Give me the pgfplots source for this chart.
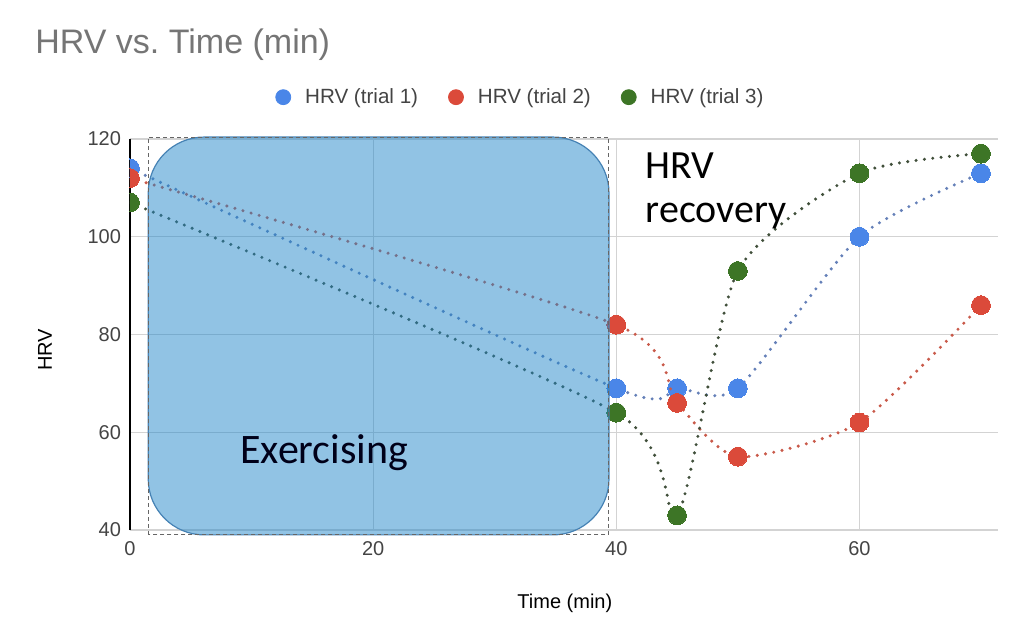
\documentclass[border=0pt]{standalone}
\usepackage{fontspec}
\setmainfont{Liberation Sans}
\newfontfamily\calfont{Carlito}
\usepackage{pgfplots}
\pgfplotsset{compat=1.18}
\definecolor{cblue}{HTML}{4A86E8}
\definecolor{cred}{HTML}{DB4A3A}
\definecolor{cgreen}{HTML}{3D7526}
\definecolor{lblue}{HTML}{6580B8}
\definecolor{lred}{HTML}{C95A4A}
\definecolor{lgreen}{HTML}{404F3A}
\definecolor{boxfill}{RGB}{35,135,201}
\definecolor{boxdraw}{RGB}{70,130,180}
\definecolor{gridc}{HTML}{D3D3D3}
\definecolor{txt}{HTML}{444444}
\definecolor{ttl}{HTML}{757575}
\pgfplotsset{hrvline/.style={line width=1.7pt, line cap=round, dash pattern=on 0pt off 4.2pt, smooth, tension=0.4, mark=*, mark size=4.7pt}}
\begin{document}
\begin{tikzpicture}
\path[use as bounding box] (-65pt,-46pt) rectangle (447pt,265pt);
\begin{axis}[
  at={(0,0)}, anchor=south west, scale only axis,
  width=434pt, height=195.5pt,
  xmin=0, xmax=71.4, ymin=40, ymax=120,
  xtick={0,20,40,60}, ytick={40,60,80,100,120},
  grid=major, major grid style={gridc, line width=0.6pt},
  axis x line*=bottom, axis y line*=left,
  x axis line style={gridc, line width=0.8pt, -},
  y axis line style={black, line width=1pt, -},
  major tick length=0pt,
  clip marker paths=true,
  tick label style={font=\fontsize{10}{12}\selectfont, text=txt},
  /pgf/number format/assume math mode=true,
  xticklabel style={yshift=-2pt},
  yticklabel style={xshift=-1pt},
  xlabel={Time (min)},
  label style={font=\fontsize{10}{12}\selectfont, text=black},
  xlabel style={at={(axis description cs:0.501,0)}, anchor=center, yshift=-36.5pt},
  legend style={at={(axis description cs:0.451,1.107)}, anchor=center, draw=none, fill=none,
    font=\fontsize{10.3}{12}\selectfont, text=txt,
    /tikz/every even column/.append style={column sep=13pt},
    /tikz/every odd column/.append style={column sep=5pt}},
  legend columns=3,
]
\addplot[hrvline, lblue, mark options={solid, cblue, line width=0pt}, forget plot]
  coordinates {(0,114)(40,69)(45,69)(50,69)(60,100)(70,113)};
\addplot[hrvline, lred, mark options={solid, cred, line width=0pt}, forget plot]
  coordinates {(0,112)(40,82)(45,66)(50,55)(60,62)(70,86)};
\addplot[hrvline, lgreen, mark options={solid, cgreen, line width=0pt}, forget plot]
  coordinates {(0,107)(40,64)(45,43)(50,93)(60,113)(70,117)};
\addlegendimage{legend image code/.code={\fill[cblue] (0pt,0pt) circle (3.75pt);}}
\addlegendentry{HRV (trial 1)}
\addlegendimage{legend image code/.code={\fill[cred] (0pt,0pt) circle (3.75pt);}}
\addlegendentry{HRV (trial 2)}
\addlegendimage{legend image code/.code={\fill[cgreen] (0pt,0pt) circle (3.75pt);}}
\addlegendentry{HRV (trial 3)}
\coordinate (ra) at (axis cs:1.5,39);
\coordinate (rb) at (axis cs:39.4,120.4);
\coordinate (ex) at (axis cs:9.05,53.7);
\coordinate (hr) at (axis cs:42.4,112.0);
\end{axis}
\fill[boxfill, fill opacity=0.5, rounded corners=28pt] (ra) rectangle (rb);
\draw[boxdraw, line width=0.6pt, rounded corners=28pt] (ra) rectangle (rb);
\draw[gray!80!black, line width=0.5pt, dash pattern=on 2pt off 1.5pt] (ra) rectangle (rb);
\node[anchor=base west, inner sep=0pt, font=\calfont\fontsize{21}{23}\selectfont, text=black!90!blue] at (ex) {Exercising};
\node[anchor=base west, inner sep=0pt, font=\calfont\fontsize{20}{22}\selectfont, text=black] at (hr) {HRV};
\node[anchor=base west, inner sep=0pt, font=\calfont\fontsize{20}{22}\selectfont, text=black] at ([yshift=-22pt]hr) {recovery};
\node[anchor=west, inner sep=0pt, font=\fontsize{17}{20}\selectfont, text=ttl] at (-47.5pt,242.5pt) {HRV vs.\ Time (min)};
\node[rotate=90, anchor=center, inner sep=0pt, font=\fontsize{10}{12}\selectfont, text=black] at (-42.5pt,90pt) {HRV};
\end{tikzpicture}
\end{document}
